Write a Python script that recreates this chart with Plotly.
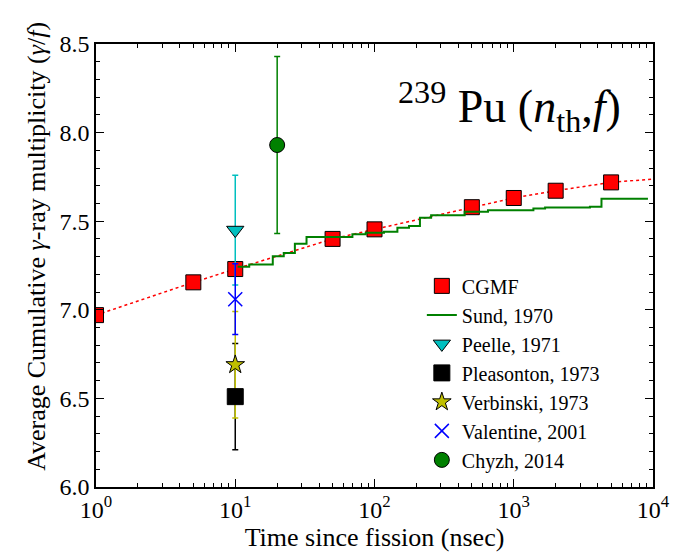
import plotly.graph_objects as go

# ---------------- data ----------------
cgmf_t = [1, 5, 10, 50, 100, 500, 1000, 2000, 5000]
cgmf_m = [6.97, 7.155, 7.23, 7.40, 7.454, 7.579, 7.631, 7.672, 7.719]
cgmf_line_t = [1, 5, 10, 50, 100, 500, 1000, 2000, 5000, 10000]
cgmf_line_m = [6.97, 7.155, 7.23, 7.40, 7.454, 7.579, 7.631, 7.672, 7.719, 7.738]

sund_t = [10.4, 12.6, 18.6, 22.3, 26.8, 32.5, 69.4, 86.5, 117, 146, 177, 212,
          255, 444, 653, 1384, 1679, 3524, 4266, 9200]
sund_m = [7.243, 7.255, 7.302, 7.321, 7.373, 7.411, 7.426, 7.435, 7.44, 7.463,
          7.473, 7.519, 7.534, 7.554, 7.562, 7.571, 7.577, 7.581, 7.626, 7.626]

exp_names = ["Peelle, 1971", "Pleasonton, 1973", "Verbinski, 1973",
             "Valentine, 2001", "Chyzh, 2014"]
exp_t = [10, 10, 10, 10, 20]
exp_m = [7.45, 6.51, 6.69, 7.06, 7.93]
exp_err = [0.31, 0.30, 0.30, 0.20, 0.50]
exp_colors = ["#00bfbf", "#000000", "#bfbf00", "#0000ff", "#008000"]
exp_symbols = ["triangle-down", "square", "star", "x-thin", "circle"]
exp_sizes = [15, 16, 14, 14, 15]

x_tickvals = [1, 10, 100, 1000, 10000]
x_ticktext = ["10<sup>0</sup>", "10<sup>1</sup>", "10<sup>2</sup>",
              "10<sup>3</sup>", "10<sup>4</sup>"]
y_tickvals = [6.0, 6.5, 7.0, 7.5, 8.0, 8.5]

FONT = "Liberation Serif"

fig = go.Figure()

# CGMF
fig.add_trace(go.Scatter(x=cgmf_line_t, y=cgmf_line_m, mode="lines",
                         line=dict(color="#ff0000", width=1.5, dash="dot"),
                         showlegend=False, hoverinfo="skip"))
fig.add_trace(go.Scatter(x=cgmf_t, y=cgmf_m, mode="markers", name="CGMF",
                         marker=dict(symbol="square", size=15, color="#ff0000",
                                     line=dict(color="black", width=1))))
# Sund
fig.add_trace(go.Scatter(x=sund_t, y=sund_m, mode="lines", name="Sund, 1970",
                         line=dict(color="#008000", width=2, shape="hv")))

# error bars first (no legend)
for t, m, e, c in zip(exp_t, exp_m, exp_err, exp_colors):
    fig.add_trace(go.Scatter(x=[t], y=[m], mode="markers",
                             marker=dict(size=1, color="rgba(0,0,0,0)"),
                             error_y=dict(type="data", array=[e], visible=True,
                                          color=c, thickness=1.5, width=3),
                             showlegend=False, hoverinfo="skip"))

# experimental markers
for name, t, m, c, s, sz in zip(exp_names, exp_t, exp_m, exp_colors, exp_symbols, exp_sizes):
    if s == "x-thin":
        mk = dict(symbol=s, size=sz, color=c, line=dict(color=c, width=1.5))
    else:
        mk = dict(symbol=s, size=sz, color=c, line=dict(color="black", width=1))
    fig.add_trace(go.Scatter(x=[t], y=[m], mode="markers", name=name, marker=mk))

# title annotation
fig.add_annotation(text="<sup>239</sup> Pu (<i>n</i><sub>th</sub>,<i>f</i>)",
                   xref="paper", yref="paper", x=0.742, y=0.86,
                   xanchor="center", yanchor="middle", showarrow=False,
                   font=dict(family=FONT, size=46, color="black"))

# y-axis label
fig.add_annotation(text="Average Cumulative <i>γ</i>-ray multiplicity (<i>γ</i>/<i>f</i>)",
                   xref="paper", yref="paper", x=-0.107, y=0.543,
                   xanchor="center", yanchor="middle", textangle=-90,
                   showarrow=False, font=dict(family=FONT, size=26, color="black"))

axis_common = dict(showline=True, linecolor="black", linewidth=1.5, mirror="ticks",
                   ticks="inside", ticklen=8, tickwidth=1.2, tickcolor="black",
                   showgrid=False, zeroline=False,
                   tickfont=dict(family=FONT, size=24, color="black"))

fig.update_xaxes(type="log", range=[0, 4], tickvals=x_tickvals, ticktext=x_ticktext,
                 title=dict(text="Time since fission (nsec)",
                            font=dict(family=FONT, size=26, color="black"), standoff=0),
                 minor=dict(ticks="inside", ticklen=4, tickwidth=1, tickcolor="black",
                            dtick="D1", showgrid=False),
                 **axis_common)
fig.update_yaxes(range=[6.0, 8.5], tickvals=y_tickvals, tickformat=".1f",
                 minor=dict(ticks="inside", ticklen=4, tickwidth=1, tickcolor="black",
                            dtick=0.1, showgrid=False),
                 **axis_common)

fig.update_layout(width=682, height=553,
                  margin=dict(l=96, r=27, t=44, b=63),
                  paper_bgcolor="white", plot_bgcolor="white",
                  font=dict(family=FONT, color="black"),
                  legend=dict(x=0.585, y=0.498, xanchor="left", yanchor="top",
                              bgcolor="rgba(0,0,0,0)", borderwidth=0,
                              font=dict(family=FONT, size=20, color="black"),
                              tracegroupgap=0, itemwidth=30))

fig.write_html("out.html")
